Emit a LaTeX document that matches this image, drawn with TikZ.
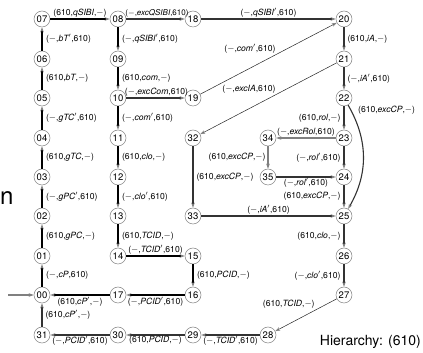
\documentclass[tikz,border=0pt]{standalone}
\usepackage{fontspec}
\setmainfont{TeX Gyre Heros}
\setsansfont{TeX Gyre Heros}
\usetikzlibrary{arrows.meta}
\newcommand\elab[3]{(#1,\textit{#2},#3)}
\newcommand\mn{$-$}
\newcommand\pr{$'$}
\begin{document}
\begin{tikzpicture}[x=1pt,y=1pt,
  st/.style={circle,draw=gray,line width=0.5pt,fill=white,inner sep=0pt,minimum size=16pt,font=\fontsize{9.5}{10}\selectfont},
  lb/.style={font=\fontsize{8.6}{9}\selectfont,inner sep=1pt},
  lbs/.style={font=\fontsize{8}{9}\selectfont,inner sep=0.5pt},
  tip/.style={-{Stealth[length=5pt,width=3.5pt,color=gray]}},
  thk/.style={tip,line width=2.2pt},
  med/.style={tip,line width=1.1pt,draw=black!80},
  fine/.style={tip,line width=0.5pt,draw=black!85},
]
\useasboundingbox (0,0) rectangle (423,353);
% column A
\node[st] (07) at (42,334) {07};
\node[st] (06) at (42,294) {06};
\node[st] (05) at (42,255) {05};
\node[st] (04) at (42,215) {04};
\node[st] (03) at (42,176) {03};
\node[st] (02) at (42,137) {02};
\node[st] (01) at (42,97) {01};
\node[st] (00) at (42,58) {00};
\node[st] (31) at (42,18) {31};
% column B
\node[st] (08) at (118,334) {08};
\node[st] (09) at (118,294) {09};
\node[st] (10) at (118,255) {10};
\node[st] (11) at (118,215) {11};
\node[st] (12) at (118,176) {12};
\node[st] (13) at (118,137) {13};
\node[st] (14) at (118,97) {14};
\node[st] (17) at (118,58) {17};
\node[st] (30) at (118,18) {30};
% column C
\node[st] (18) at (193,334) {18};
\node[st] (19) at (193,255) {19};
\node[st] (32) at (193,215) {32};
\node[st] (33) at (193,137) {33};
\node[st] (15) at (193,97) {15};
\node[st] (16) at (193,58) {16};
\node[st] (29) at (193,18) {29};
% column D
\node[st] (34) at (268,215) {34};
\node[st] (35) at (268,176) {35};
\node[st] (28) at (268,18) {28};
% column E
\node[st] (20) at (344,334) {20};
\node[st] (21) at (344,294) {21};
\node[st] (22) at (344,255) {22};
\node[st] (23) at (344,215) {23};
\node[st] (24) at (344,176) {24};
\node[st] (25) at (344,137) {25};
\node[st] (26) at (344,97) {26};
\node[st] (27) at (344,58) {27};

\coordinate (in0) at (8,58);
\draw[med,draw=gray] (in0) -- (00);

% column A (up)
\draw[thk] (00) -- node[lb,right=2pt]{\elab{\mn}{cP}{610}} (01);
\draw[thk] (01) -- node[lb,right=2pt]{\elab{610}{gPC}{\mn}} (02);
\draw[thk] (02) -- node[lb,right=2pt]{\elab{\mn}{gPC\pr}{610}} (03);
\draw[thk] (03) -- node[lb,right=2pt]{\elab{610}{gTC}{\mn}} (04);
\draw[thk] (04) -- node[lb,right=2pt]{\elab{\mn}{gTC\pr}{610}} (05);
\draw[thk] (05) -- node[lb,right=2pt]{\elab{610}{bT}{\mn}} (06);
\draw[thk] (06) -- node[lb,right=2pt]{\elab{\mn}{bT\pr}{610}} (07);
\draw[thk] (07) -- node[lb,above=0pt]{\elab{610}{qSIBI}{\mn}} (08);
% column B (down)
\draw[thk] (08) -- node[lb,right=2pt]{\elab{\mn}{qSIBI\pr}{610}} (09);
\draw[thk] (09) -- node[lb,right=2pt]{\elab{610}{com}{\mn}} (10);
\draw[thk] (10) -- node[lb,right=2pt]{\elab{\mn}{com\pr}{610}} (11);
\draw[thk] (11) -- node[lb,right=2pt]{\elab{610}{clo}{\mn}} (12);
\draw[thk] (12) -- node[lb,right=2pt]{\elab{\mn}{clo\pr}{610}} (13);
\draw[thk] (13) -- node[lb,right=2pt]{\elab{610}{TCID}{\mn}} (14);
\draw[thk] (14) -- node[lb,above=0pt]{\elab{\mn}{TCID\pr}{610}} (15);
\draw[thk] (15) -- node[lb,right=2pt]{\elab{610}{PCID}{\mn}} (16);
\draw[thk] (16) -- node[lb,below=0pt]{\elab{\mn}{PCID\pr}{610}} (17);
\draw[thk] (17) -- node[lb,below=0pt]{\elab{610}{cP\pr}{\mn}} (00);
% top row
\draw[med] (08) -- node[lbs,above=1pt,xshift=1.5pt]{\elab{\mn}{excQSIBI}{610}} (18);
\draw[med] (18) -- node[lb,above=0pt]{\elab{\mn}{qSIBI\pr}{610}} (20);
\draw[med] (10) -- node[lb,above=0pt,xshift=1pt]{\elab{\mn}{excCom}{610}} (19);
\draw[fine] (19) -- node[lb,pos=0.56,anchor=south east]{\elab{\mn}{com\pr}{610}} (20);
\draw[fine] (21) -- node[lb,pos=0.44,anchor=south east]{\elab{\mn}{excIA}{610}} (32);
% column E
\draw[med] (20) -- node[lb,right=2pt]{\elab{610}{iA}{\mn}} (21);
\draw[med] (21) -- node[lb,right=2pt]{\elab{\mn}{iA\pr}{610}} (22);
\draw[med] (22) -- node[lb,left=2pt]{\elab{610}{rol}{\mn}} (23);
\draw[med] (23) -- node[lb,left=2pt]{\elab{\mn}{rol\pr}{610}} (24);
\draw[med] (24) -- node[lb,left=2pt]{\elab{610}{excCP}{\mn}} (25);
\draw[med] (25) -- node[lb,left=2pt]{\elab{610}{clo}{\mn}} (26);
\draw[med] (26) -- node[lb,left=2pt]{\elab{\mn}{clo\pr}{610}} (27);
\draw[med] (22) to[out=-60,in=60] node[lb,pos=0.1,anchor=south west,xshift=3pt]{\elab{610}{excCP}{\mn}} (25);
% middle
\draw[med,draw=gray] (23) -- node[lb,above=0pt]{\elab{\mn}{excRol}{610}} (34);
\draw[med,draw=gray] (34) -- node[lb,left=1pt]{\elab{610}{excCP}{\mn}} (35);
\draw[med] (35) -- node[lb,below=0pt]{\elab{\mn}{rol\pr}{610}} (24);
\draw[med] (32) -- node[lb,right=2pt]{\elab{610}{excCP}{\mn}} (33);
\draw[med] (33) -- node[lb,above=0pt]{\elab{\mn}{iA\pr}{610}} (25);
% bottom row
\draw[fine] (27) -- node[lb,pos=0.34,anchor=south east]{\elab{610}{TCID}{\mn}} (28);
\draw[med] (28) -- node[lb,below=0pt]{\elab{\mn}{TCID\pr}{610}} (29);
\draw[med] (29) -- node[lb,below=0pt]{\elab{610}{PCID}{\mn}} (30);
\draw[med] (30) -- node[lb,below=0pt]{\elab{\mn}{PCID\pr}{610}} (31);
\draw[med] (31) -- node[lb,right=2pt]{\elab{610}{cP\pr}{\mn}} (00);

\node[anchor=base west,inner sep=0pt,font=\fontsize{24}{24}\selectfont] (ntxt) at (0,148) {n};
\node[anchor=base east,inner sep=0pt,font=\fontsize{14}{14}\selectfont] (hier) at (421,7) {Hierarchy: (610)};
\end{tikzpicture}
\end{document}
